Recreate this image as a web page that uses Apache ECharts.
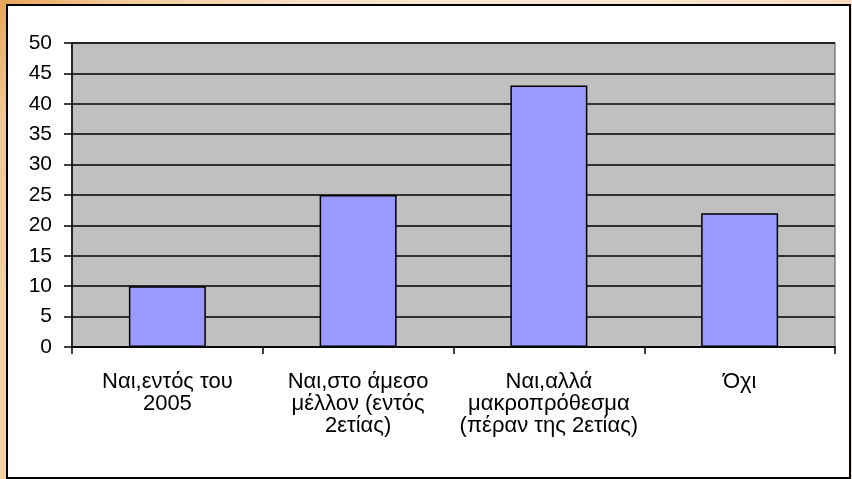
<!DOCTYPE html>
<html>
<head>
<meta charset="utf-8">
<script src="https://cdn.jsdelivr.net/npm/echarts@6/dist/echarts.min.js"></script>
<style>
  html, body { margin: 0; padding: 0; }
  body {
    width: 852px; height: 479px; overflow: hidden;
    background:
      radial-gradient(circle at 0 0, rgba(232,160,80,0.9) 0, rgba(242,196,140,0.6) 120px, rgba(250,230,210,0) 300px),
      linear-gradient(to right, #f3cfa0 0%, #f8e0c6 35%, #fbe9d6 65%, #f7dcbf 100%);
  }
  #chart { width: 852px; height: 479px; }
</style>
</head>
<body>
<div id="chart"></div>
<script>
// Survey answers and their percentages
const categories = [
  'Ναι,εντός του\n2005',
  'Ναι,στο άμεσο\nμέλλον (εντός\n2ετίας)',
  'Ναι,αλλά\nμακροπρόθεσμα\n(πέραν της 2ετίας)',
  'Όχι'
];
const values = [10, 25, 43, 22];
const yMin = 0;
const yMax = 50;
const yStep = 5;

const chart = echarts.init(document.getElementById('chart'), null, { renderer: 'canvas' });

const font = '"Liberation Sans", Arial, sans-serif';

chart.setOption({
  backgroundColor: 'transparent',
  animation: false,
  graphic: [{
    type: 'rect',
    z: -10,
    silent: true,
    shape: { x: 7, y: 5, width: 843, height: 473 },
    style: { fill: '#ffffff', stroke: '#000000', lineWidth: 2 }
  }],
  grid: {
    left: 72, top: 43, width: 763, height: 304,
    show: true,
    backgroundColor: '#c0c0c0',
    borderColor: '#808080',
    borderWidth: 1.5
  },
  xAxis: {
    type: 'category',
    data: categories,
    axisLine: { show: true, lineStyle: { color: '#000', width: 1.5 } },
    axisTick: { show: true, length: 7, interval: 0, lineStyle: { color: '#000', width: 1.5 } },
    axisLabel: {
      interval: 0,
      margin: 24,
      color: '#000',
      fontFamily: font,
      fontSize: 22,
      lineHeight: 22,
      align: 'center'
    },
    splitLine: { show: false }
  },
  yAxis: {
    type: 'value',
    min: yMin, max: yMax, interval: yStep,
    axisLine: { show: true, lineStyle: { color: '#000', width: 1.5 } },
    axisTick: { show: true, length: 8, lineStyle: { color: '#000', width: 1.5 } },
    axisLabel: {
      margin: 20,
      color: '#000',
      fontFamily: font,
      fontSize: 21
    },
    splitLine: { show: true, lineStyle: { color: '#000', width: 1.5 } }
  },
  series: [{
    type: 'bar',
    data: values,
    barWidth: 77,
    itemStyle: { color: '#9999ff', borderColor: '#000', borderWidth: 1.5 }
  }]
});
</script>
</body>
</html>
